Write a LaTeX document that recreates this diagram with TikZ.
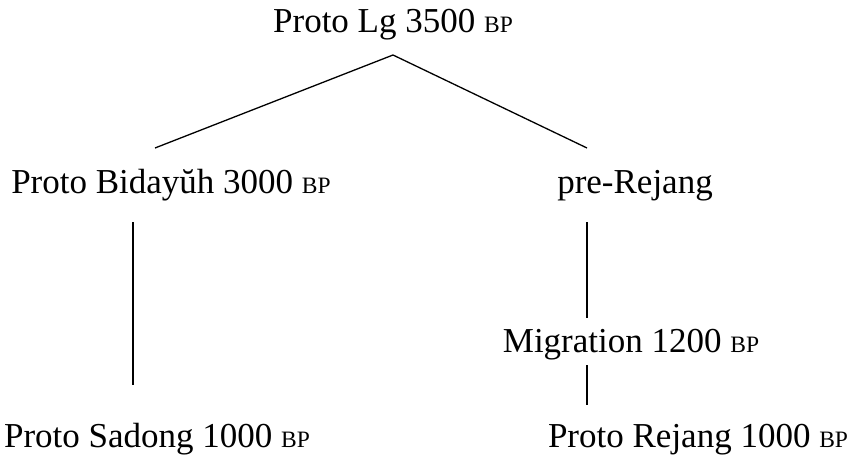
\documentclass[tikz,border=0pt]{standalone}
\usepackage{fontspec}
\setmainfont{Liberation Serif}
\newcommand{\bpmark}{{\fontsize{23.5}{24}\selectfont BP}}
\tikzset{
  lbl/.style={anchor=base, inner sep=0pt, font=\fontsize{35}{38}\selectfont},
  branch/.style={draw=black, line width=1.3pt}
}
\begin{document}
\begin{tikzpicture}[x=1pt,y=1pt]
\useasboundingbox (0,0) rectangle (853,456);
\node[lbl] (lg) at (393,423) {Proto Lg 3500 \bpmark};
\node[lbl] (bid) at (171,263) {Proto Bidayŭh 3000 \bpmark};
\node[lbl] (pre) at (635,263) {pre-Rejang};
\node[lbl] (mig) at (631,104) {Migration 1200 \bpmark};
\node[lbl] (sad) at (157,9) {Proto Sadong 1000 \bpmark};
\node[lbl] (rej) at (698,9) {Proto Rejang 1000 \bpmark};
\coordinate (lgS) at (393,401);
\coordinate (bidN) at (155,308);
\coordinate (preN) at (587,308);
\coordinate (bidS) at (133,234);
\coordinate (sadN) at (133,71);
\coordinate (preS) at (587,234);
\coordinate (migN) at (587,138);
\coordinate (migS) at (587,91);
\coordinate (rejN) at (587,51);
\draw[branch] (bidN) -- (lgS) -- (preN);
\draw[branch] (bidS) -- (sadN);
\draw[branch] (preS) -- (migN);
\draw[branch] (migS) -- (rejN);
\end{tikzpicture}
\end{document}
